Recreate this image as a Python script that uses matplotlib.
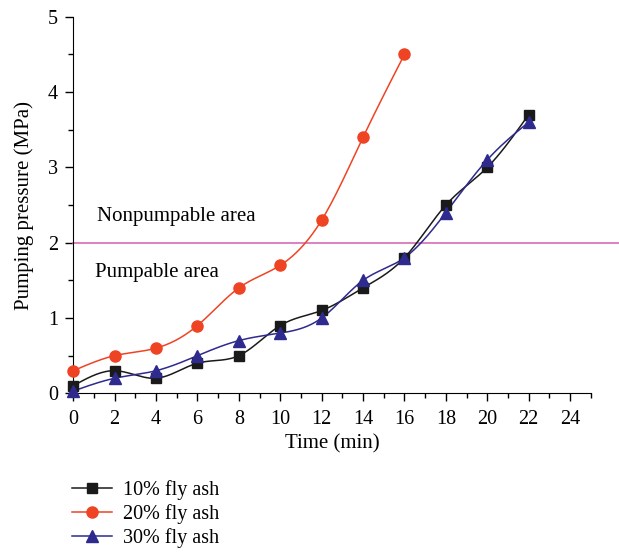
import numpy as np
import matplotlib.pyplot as plt
from matplotlib.ticker import MultipleLocator

# -----------------------------
# Data
# -----------------------------
time_10 = [0, 2, 4, 6, 8, 10, 12, 14, 16, 18, 20, 22]
press_10 = [0.1, 0.3, 0.2, 0.4, 0.5, 0.9, 1.1, 1.4, 1.8, 2.5, 3.0, 3.7]

time_20 = [0, 2, 4, 6, 8, 10, 12, 14, 16]
press_20 = [0.3, 0.5, 0.6, 0.9, 1.4, 1.7, 2.3, 3.4, 4.5]

time_30 = [0, 2, 4, 6, 8, 10, 12, 14, 16, 18, 20, 22]
press_30 = [0.03, 0.2, 0.3, 0.5, 0.7, 0.8, 1.0, 1.5, 1.8, 2.4, 3.1, 3.6]

limit_pressure = 2.0

labels = ['10% fly ash', '20% fly ash', '30% fly ash']
colors = ['#1a1a1a', '#ef4424', '#2e2a8e']
markers = ['s', 'o', '^']


def smooth(x, y, n=200):
    # natural cubic spline, only used to draw the connecting curve
    x = np.asarray(x, float)
    y = np.asarray(y, float)
    k = len(x)
    h = np.diff(x)
    A = np.zeros((k, k))
    b = np.zeros(k)
    A[0, 0] = A[-1, -1] = 1
    for i in range(1, k - 1):
        A[i, i - 1] = h[i - 1]
        A[i, i] = 2 * (h[i - 1] + h[i])
        A[i, i + 1] = h[i]
        b[i] = 6 * ((y[i + 1] - y[i]) / h[i] - (y[i] - y[i - 1]) / h[i - 1])
    M = np.linalg.solve(A, b)
    xs = np.linspace(x[0], x[-1], n)
    idx = np.clip(np.searchsorted(x, xs) - 1, 0, k - 2)
    x0, x1 = x[idx], x[idx + 1]
    hh = x1 - x0
    t0, t1 = x1 - xs, xs - x0
    ys = (M[idx] * t0**3 + M[idx + 1] * t1**3) / (6 * hh) \
        + (y[idx] / hh - M[idx] * hh / 6) * t0 \
        + (y[idx + 1] / hh - M[idx + 1] * hh / 6) * t1
    return xs, ys


plt.rcParams['font.family'] = 'Liberation Serif'
plt.rcParams['font.size'] = 14

fig = plt.figure(figsize=(6.19, 5.52), dpi=100)
ax = fig.add_axes([0.1184, 0.2875, 0.8359, 0.682])

series = [(time_10, press_10), (time_20, press_20), (time_30, press_30)]
handles = []
for (tx, py), lab, col, mk in zip(series, labels, colors, markers):
    xs, ys = smooth(tx, py)
    ms = 8 if mk != 's' else 7
    ax.plot(xs, ys, color=col, linewidth=1.1, clip_on=False, zorder=3)
    ax.plot(tx, py, linestyle='none', marker=mk, color=col,
            markersize=ms, clip_on=False, zorder=4)
    h, = ax.plot([], [], color=col, marker=mk, linewidth=1.1,
                 markersize=ms, label=lab)
    handles.append(h)

# pumpable limit, runs past the end of the axis
ax.plot([0, 26.4], [limit_pressure, limit_pressure], color='#d56bb4',
        linewidth=1.2, clip_on=False, zorder=2)

ax.text(1.15, 2.35, 'Nonpumpable area', fontsize=15, va='center')
ax.text(1.05, 1.6, 'Pumpable area', fontsize=15, va='center')

ax.set_xlim(0, 25)
ax.set_ylim(0, 5)
ax.xaxis.set_major_locator(MultipleLocator(2))
ax.xaxis.set_minor_locator(MultipleLocator(1))
ax.yaxis.set_major_locator(MultipleLocator(1))
ax.yaxis.set_minor_locator(MultipleLocator(0.5))
ax.spines['top'].set_visible(False)
ax.spines['right'].set_visible(False)
ax.tick_params(which='major', direction='out', length=6, width=1)
ax.tick_params(which='minor', direction='out', length=3.5, width=1)
ax.tick_params(axis='x', labelsize=14.5, pad=6)
ax.tick_params(axis='y', labelsize=14.5, pad=5)

ax.set_xlabel('Time (min)', fontsize=15, labelpad=4)
ax.set_ylabel('Pumping pressure (MPa)', fontsize=15, labelpad=10)

fig.legend(handles=handles, loc='upper left', bbox_to_anchor=(0.103, 0.145),
           frameon=False, fontsize=14.5, handlelength=2.0,
           labelspacing=0.2, handletextpad=0.55, borderaxespad=0)

fig.savefig('out.png', dpi=100)
